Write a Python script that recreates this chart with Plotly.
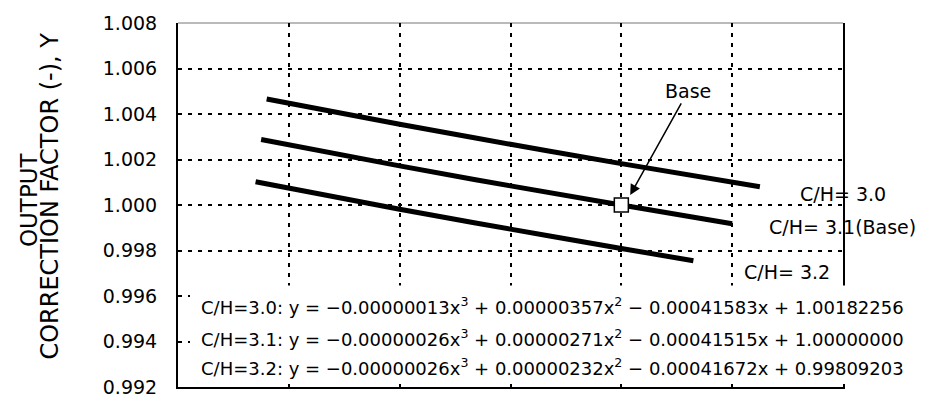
import plotly.graph_objects as go

# Series (x: relative axis, no tick labels shown)
x_30 = [-6.4, -4.0, -2.0, 0.0, 2.5]
y_30 = [1.00466, 1.00355, 1.00267, 1.00182, 1.00080]
x_31 = [-6.5, -4.0, -2.0, 0.0, 2.0]
y_31 = [1.00288, 1.00172, 1.00084, 1.00000, 0.99918]
x_32 = [-6.6, -4.0, -2.0, 0.0, 1.3]
y_32 = [1.00102, 0.99981, 0.99894, 0.99809, 0.99755]
base_x = [0.0]
base_y = [1.000]

y_ticks = [0.992, 0.994, 0.996, 0.998, 1.000, 1.002, 1.004, 1.006, 1.008]
series_labels = ["C/H= 3.0", "C/H= 3.1(Base)", "C/H= 3.2"]
equations = [
    "C/H=3.0: y = \u22120.00000013x<sup>3</sup> + 0.00000357x<sup>2</sup> \u2212 0.00041583x + 1.00182256",
    "C/H=3.1: y = \u22120.00000026x<sup>3</sup> + 0.00000271x<sup>2</sup> \u2212 0.00041515x + 1.00000000",
    "C/H=3.2: y = \u22120.00000026x<sup>3</sup> + 0.00000232x<sup>2</sup> \u2212 0.00041672x + 0.99809203",
]

FONT = "DejaVu Sans"
fig = go.Figure()
for xs, ys in [(x_30, y_30), (x_31, y_31), (x_32, y_32)]:
    fig.add_trace(go.Scatter(x=xs, y=ys, mode="lines", line=dict(color="black", width=5, shape="spline"),
                             showlegend=False, hoverinfo="skip"))
fig.add_trace(go.Scatter(x=base_x, y=base_y, mode="markers",
                         marker=dict(symbol="square", size=14, color="white", line=dict(color="black", width=1.5)),
                         showlegend=False))

W, H = 927, 410
L, R, T, B = 178, 84, 20, 21
pw, ph = W - L - R, H - T - B

def px(xp):
    return (xp - L) / pw

def py(yp):
    return (H - B - yp) / ph

annotations = []
# series labels
for lab, (lx, ly) in zip(series_labels, [(798, 193), (767, 227), (742, 272)]):
    annotations.append(dict(text=lab, xref="paper", yref="paper", x=px(lx), y=py(ly), xanchor="left",
                            yanchor="middle", showarrow=False, font=dict(family=FONT, size=19, color="black")))
# equations
for eq, ly in zip(equations, [307, 339, 369]):
    annotations.append(dict(text=eq, xref="paper", yref="paper", x=px(199), y=py(ly), xanchor="left",
                            yanchor="middle", showarrow=False, font=dict(family=FONT, size=18, color="black")))
# Base arrow
annotations.append(dict(text="Base", x=0.16, y=1.00044, xref="x", yref="y", ax=58, ay=-104,
                        showarrow=True, arrowhead=2, arrowsize=1.4, arrowwidth=1.5, arrowcolor="black",
                        font=dict(family=FONT, size=19, color="black")))
# y title (two lines)
annotations.append(dict(text="OUTPUT", xref="paper", yref="paper", x=px(28.5), y=py(199), textangle=-90,
                        xanchor="center", yanchor="middle", showarrow=False,
                        font=dict(family=FONT, size=23, color="black")))
annotations.append(dict(text="CORRECTION FACTOR (-), Y", xref="paper", yref="paper", x=px(50), y=py(196),
                        textangle=-90, xanchor="center", yanchor="middle", showarrow=False,
                        font=dict(family=FONT, size=24, color="black")))

shapes = [
    dict(type="rect", xref="paper", yref="paper", x0=px(190), x1=px(912), y0=py(386), y1=py(286),
         fillcolor="white", line=dict(width=0), layer="above"),
    dict(type="line", xref="paper", yref="paper", x0=0, x1=1, y0=1, y1=1,
         line=dict(color="#777777", width=1), layer="below"),
]

fig.update_layout(
    width=W, height=H, margin=dict(l=L, r=R, t=T, b=B),
    paper_bgcolor="white", plot_bgcolor="white",
    font=dict(family=FONT, color="black"),
    annotations=annotations, shapes=shapes, showlegend=False,
    xaxis=dict(range=[-8, 4], dtick=2, tick0=0, showticklabels=False, ticks="",
               showgrid=True, gridcolor="black", gridwidth=2, griddash="4px,6px",
               showline=True, linecolor="black", linewidth=2, mirror=False, zeroline=False),
    yaxis=dict(range=[0.992, 1.008], tickvals=y_ticks, tickformat=".3f", ticks="",
               ticklabelstandoff=15, tickfont=dict(family=FONT, size=19, color="black"),
               showgrid=True, gridcolor="black", gridwidth=2, griddash="4px,6px",
               showline=True, linecolor="black", linewidth=2, mirror=True, zeroline=False),
)

fig.write_html("out.html")
